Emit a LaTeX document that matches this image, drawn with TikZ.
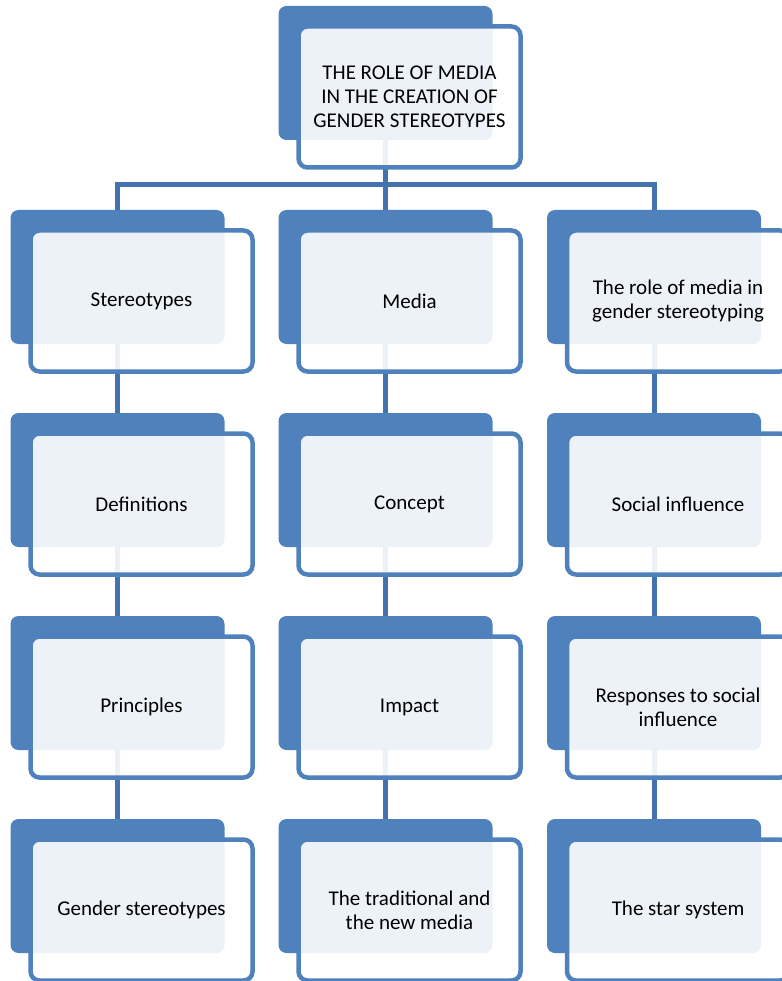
\documentclass[tikz,border=0pt]{standalone}
\usepackage{fontspec}
\setmainfont{Carlito}
\usetikzlibrary{backgrounds}
\definecolor{boxblue}{HTML}{4F81BD}
\definecolor{linkblue}{HTML}{4373AE}

\begin{document}
\begin{tikzpicture}[x=1pt, y=-1pt,
  every node/.style={font=\fontsize{21}{24}\selectfont, align=center},
  back/.style={fill=boxblue, rounded corners=8pt, inner sep=0pt,
    minimum width=214pt, minimum height=134pt},
  front/.style={draw=boxblue, line width=4.5pt, fill=white, fill opacity=.9,
    text opacity=1, rounded corners=9pt, inner sep=0pt,
    minimum width=222pt, minimum height=141pt},
  link/.style={draw=linkblue, line width=5pt}]
  \useasboundingbox (0,0) rectangle (781,981);
  \coordinate (bar) at (385.5,185);

  % top entry
  \node[back]  (roleb) at (385.5,73) {};
  \node[front] (role)  at (409.5,97) {THE ROLE OF MEDIA\\IN THE CREATION OF\\GENDER STEREOTYPES};

  % first column
  \node[back]  (stereob)  at (117.5,277) {};
  \node[front] (stereo)   at (141.5,301) {Stereotypes};
  \node[back]  (definb)   at (117.5,480) {};
  \node[front] (defin)    at (141.5,504) {Definitions};
  \node[back]  (princb)   at (117.5,683) {};
  \node[front] (princ)    at (141.5,707) {Principles};
  \node[back]  (gstereob) at (117.5,886) {};
  \node[front] (gstereo)  at (141.5,910) {Gender stereotypes};

  % second column
  \node[back]  (mediab)   at (385.5,277) {};
  \node[front] (media)    at (409.5,301) {Media};
  \node[back]  (conceptb) at (385.5,480) {};
  \node[front] (concept)  at (409.5,504) {Concept};
  \node[back]  (impactb)  at (385.5,683) {};
  \node[front] (impact)   at (409.5,707) {Impact};
  \node[back]  (tradnewb) at (385.5,886) {};
  \node[front] (tradnew)  at (409.5,910) {The traditional and\\the new media};

  % third column
  \node[back]  (rolemediab) at (654,277) {};
  \node[front] (rolemedia)  at (678,301) {The role of media in\\gender stereotyping};
  \node[back]  (socialb)    at (654,480) {};
  \node[front] (social)     at (678,504) {Social influence};
  \node[back]  (responsesb) at (654,683) {};
  \node[front] (responses)  at (678,707) {Responses to social\\influence};
  \node[back]  (starb)      at (654,886) {};
  \node[front] (star)       at (678,910) {The star system};

  % connectors go behind the boxes
  \begin{scope}[on background layer]
    \draw[link] (roleb) -- (mediab);
    \draw[link] (stereob) |- (bar) -| (rolemediab);
    \draw[link] (stereob) -- (definb) -- (princb) -- (gstereob);
    \draw[link] (mediab) -- (conceptb) -- (impactb) -- (tradnewb);
    \draw[link] (rolemediab) -- (socialb) -- (responsesb) -- (starb);
  \end{scope}
\end{tikzpicture}
\end{document}
